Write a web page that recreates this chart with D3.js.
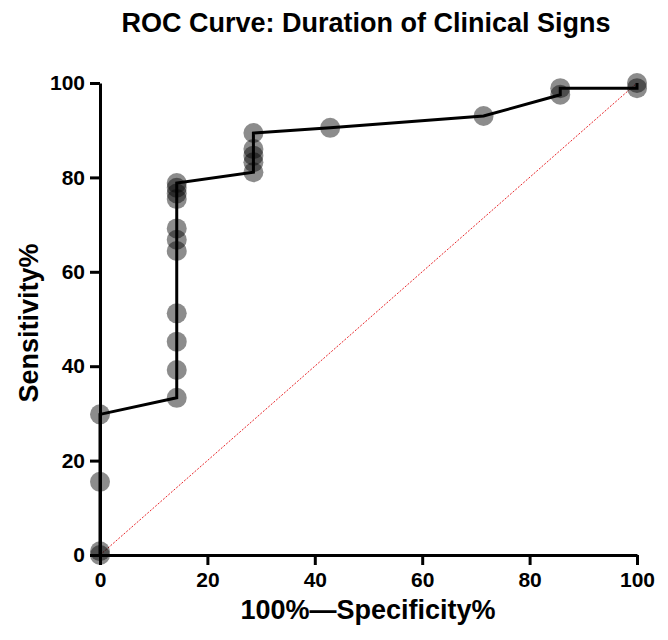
<!DOCTYPE html>
<html>
<head>
	<meta charset="utf-8">
	<title>ROC Curve</title>
	<script type="text/javascript" src="https://cdn.jsdelivr.net/npm/d3@7"></script>
	<style>
		body {
			margin: 0;
			font-family: "Liberation Sans", Arial, Helvetica, sans-serif;
			background: #fff;
		}
	</style>
</head>

<body>

	<div id="chart"></div>

	<script>

		// data

		const pointX = [0, 0, 0, 0,
			14.29, 14.29, 14.29, 14.29, 14.29, 14.29, 14.29, 14.29, 14.29, 14.29, 14.29,
			28.57, 28.57, 28.57, 28.57, 28.57,
			42.86, 71.43, 85.71, 85.71, 100, 100];
		const pointY = [0, 0.8, 15.5, 29.8,
			33.3, 39.2, 45.2, 51.2, 64.4, 66.8, 69.2, 75.4, 76.6, 77.8, 78.8,
			81.1, 83.2, 84.6, 86.0, 89.4,
			90.5, 93.0, 97.5, 98.9, 98.9, 100];

		const curveX = [0, 0, 14.29, 14.29, 28.57, 28.57, 42.86, 71.43, 85.71, 85.71, 100, 100];
		const curveY = [0, 29.8, 33.3, 78.8, 81.1, 89.4, 90.5, 93.0, 97.5, 98.9, 98.9, 100];

		const ticks = [0, 20, 40, 60, 80, 100];

		const width = 668;
		const height = 640;
		const margin = { top: 83, right: 31, bottom: 85, left: 100 };

		const svg = d3.select("#chart")
			.append("svg")
			.attr("width", width)
			.attr("height", height);

		const x = d3.scaleLinear().domain([0, 100]).range([margin.left, width - margin.right]);
		const y = d3.scaleLinear().domain([0, 100]).range([height - margin.bottom, margin.top]);

		// title
		svg.append("text")
			.attr("x", 366)
			.attr("y", 32)
			.attr("text-anchor", "middle")
			.attr("font-size", 27)
			.attr("font-weight", "bold")
			.text("ROC Curve: Duration of Clinical Signs");

		// reference diagonal
		svg.append("line")
			.attr("x1", x(0)).attr("y1", y(0))
			.attr("x2", x(100)).attr("y2", y(100))
			.attr("stroke", "#e8262a")
			.attr("stroke-width", 1)
			.attr("stroke-dasharray", "2,1.5");

		// ROC curve
		const line = d3.line()
			.x((d, i) => x(curveX[i]))
			.y((d, i) => y(curveY[i]));

		svg.append("path")
			.datum(curveX)
			.attr("d", line)
			.attr("fill", "none")
			.attr("stroke", "#000")
			.attr("stroke-width", 3);

		// points
		svg.append("g")
			.selectAll("circle")
			.data(pointX)
			.join("circle")
			.attr("cx", (d, i) => x(pointX[i]))
			.attr("cy", (d, i) => y(pointY[i]))
			.attr("r", 10)
			.attr("fill", "#000")
			.attr("fill-opacity", 0.45);

		// axes
		const xAxis = svg.append("g")
			.attr("transform", `translate(0,${y(0)})`)
			.call(d3.axisBottom(x).tickValues(ticks).tickSize(10).tickSizeOuter(0).tickPadding(7));

		const yAxis = svg.append("g")
			.attr("transform", `translate(${x(0)},0)`)
			.call(d3.axisLeft(y).tickValues(ticks).tickSize(10).tickSizeOuter(0).tickPadding(5));

		[xAxis, yAxis].forEach(a => {
			a.selectAll("path, line")
				.attr("stroke", "#000")
				.attr("stroke-width", 3);
			a.selectAll("text")
				.attr("fill", "#000")
				.attr("font-size", 21)
				.attr("font-weight", "bold")
				.attr("font-family", "\"Liberation Sans\", Arial, sans-serif");
		});

		// axis titles
		svg.append("text")
			.attr("x", 368)
			.attr("y", 619)
			.attr("text-anchor", "middle")
			.attr("font-size", 27)
			.attr("font-weight", "bold")
			.text("100%\u2014Specificity%");

		svg.append("text")
			.attr("transform", `translate(38,${323}) rotate(-90)`)
			.attr("text-anchor", "middle")
			.attr("font-size", 27)
			.attr("font-weight", "bold")
			.text("Sensitivity%");

	</script>

</body>

</html>
